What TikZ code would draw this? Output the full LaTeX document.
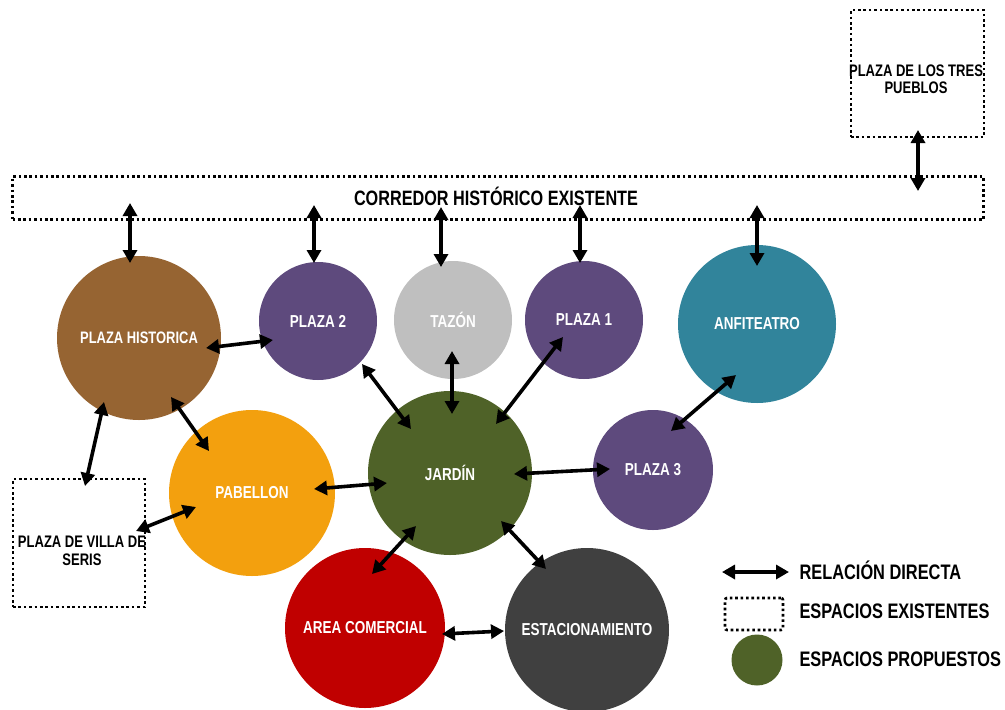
\documentclass[tikz,border=0pt]{standalone}
\usepackage{fontspec}
\setmainfont{Liberation Sans}[FakeStretch=0.78]
\usetikzlibrary{arrows.meta}
\definecolor{cbrown}{RGB}{150,100,50}
\definecolor{cpurple}{RGB}{94,74,125}
\definecolor{cgray}{RGB}{191,191,191}
\definecolor{cteal}{RGB}{49,132,155}
\definecolor{colive}{RGB}{79,98,40}
\definecolor{corange}{RGB}{243,160,14}
\definecolor{cred}{RGB}{192,0,0}
\definecolor{cdark}{RGB}{64,64,64}
\begin{document}
\begin{tikzpicture}[x=1pt,y=-1pt,
  circ/.style={circle,inner sep=0pt,text=white,font=\bfseries\fontsize{17.3}{19}\selectfont},
  exist/.style={draw=black,line width=2.6pt,dash pattern=on 2.6pt off 2.8pt,inner sep=0pt},
  boxtext/.style={align=center,font=\bfseries\fontsize{16.7}{17.5}\selectfont},
  rel/.style={line width=3.6pt,{Triangle[length=13pt,width=14pt]}-{Triangle[length=13pt,width=14pt]}},
  legtext/.style={anchor=west,font=\bfseries\fontsize{21}{23}\selectfont}]
\useasboundingbox (0,0) rectangle (1005,710);
% existing spaces
\node[exist,minimum width=971pt,minimum height=43pt] (corr) at (498,198) {};
\node[font=\bfseries\fontsize{20.8}{23}\selectfont] (corrt) at (496,196) {CORREDOR HISTÓRICO EXISTENTE};
\node[exist,minimum width=133pt,minimum height=127pt] (tres) at (917.5,73.5) {};
\node[boxtext] (trest) at (916,79) {PLAZA DE LOS TRES\\PUEBLOS};
\node[exist,minimum width=132pt,minimum height=128pt] (villa) at (79,543) {};
\node[boxtext] (villat) at (82,551) {PLAZA DE VILLA DE\\SERIS};
% proposed spaces
\node[circ,fill=cbrown,minimum size=164pt,font=\bfseries\fontsize{16.6}{19}\selectfont] (ph) at (139,338) {PLAZA HISTORICA};
\node[circ,fill=cpurple,minimum size=118pt] (p2) at (318,321) {PLAZA 2};
\node[circ,fill=cgray,minimum size=118pt] (taz) at (453,320) {TAZÓN};
\node[circ,fill=cpurple,minimum size=118pt] (p1) at (584,320) {PLAZA 1};
\node[circ,fill=cteal,minimum size=158pt] (anf) at (757,324) {ANFITEATRO};
\node[circ,fill=colive,minimum size=164pt] (jar) at (450,473) {JARDÍN};
\node[circ,fill=cpurple,minimum size=120pt] (p3) at (653,470) {PLAZA 3};
\node[circ,fill=corange,minimum size=166pt] (pab) at (252,493) {PABELLON};
\node[circ,fill=cred,minimum size=160pt] (ac) at (365,628) {AREA COMERCIAL};
\node[circ,fill=cdark,minimum size=164pt] (est) at (587,630) {ESTACIONAMIENTO};
% arrow end points
\coordinate (a1) at (130,203); \coordinate (b1) at (130,263);
\coordinate (a2) at (314,205); \coordinate (b2) at (314,263);
\coordinate (a3) at (441,207); \coordinate (b3) at (441,267);
\coordinate (a4) at (580,205); \coordinate (b4) at (580,263);
\coordinate (a5) at (757,205); \coordinate (b5) at (757,266);
\coordinate (a6) at (918,130); \coordinate (b6) at (918,191);
\coordinate (a7) at (206,348); \coordinate (b7) at (273,340);
\coordinate (a8) at (104,402); \coordinate (b8) at (85,486);
\coordinate (a9) at (171,397); \coordinate (b9) at (209,451);
\coordinate (a10) at (136,531); \coordinate (b10) at (196,507);
\coordinate (a11) at (314,489); \coordinate (b11) at (387,483);
\coordinate (a12) at (362,364); \coordinate (b12) at (411,429);
\coordinate (a13) at (452,351); \coordinate (b13) at (452,414);
\coordinate (a14) at (563,337); \coordinate (b14) at (496,424);
\coordinate (a15) at (514,474); \coordinate (b15) at (610,469);
\coordinate (a16) at (736,375); \coordinate (b16) at (671,431);
\coordinate (a17) at (416,526); \coordinate (b17) at (372,574);
\coordinate (a18) at (501,521); \coordinate (b18) at (546,569);
\coordinate (a19) at (442,634); \coordinate (b19) at (504,631);
\draw[rel] (a1) -- (b1);
\draw[rel] (a2) -- (b2);
\draw[rel] (a3) -- (b3);
\draw[rel] (a4) -- (b4);
\draw[rel] (a5) -- (b5);
\draw[rel] (a6) -- (b6);
\draw[rel] (a7) -- (b7);
\draw[rel] (a8) -- (b8);
\draw[rel] (a9) -- (b9);
\draw[rel] (a10) -- (b10);
\draw[rel] (a11) -- (b11);
\draw[rel] (a12) -- (b12);
\draw[rel] (a13) -- (b13);
\draw[rel] (a14) -- (b14);
\draw[rel] (a15) -- (b15);
\draw[rel] (a16) -- (b16);
\draw[rel] (a17) -- (b17);
\draw[rel] (a18) -- (b18);
\draw[rel] (a19) -- (b19);
% legend
\coordinate (la) at (722,572); \coordinate (lb) at (789,572);
\draw[rel] (la) -- (lb);
\node[legtext] (l1) at (796,570) {RELACIÓN DIRECTA};
\node[exist,rounded corners=2pt,minimum width=58pt,minimum height=32pt] (lbox) at (754,614) {};
\node[legtext] (l2) at (796,611) {ESPACIOS EXISTENTES};
\node[circle,fill=colive,minimum size=51pt,inner sep=0pt] (lcirc) at (757,660) {};
\node[legtext] (l3) at (796,659) {ESPACIOS PROPUESTOS};
\end{tikzpicture}
\end{document}
